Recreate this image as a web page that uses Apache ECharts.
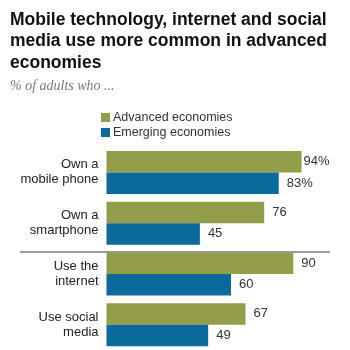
<!DOCTYPE html>
<html>
<head>
<meta charset="utf-8">
<script src="https://cdn.jsdelivr.net/npm/echarts@6/dist/echarts.min.js"></script>
<style>
  html, body { margin: 0; padding: 0; background: #fff; }
  #chart { width: 350px; height: 350px; }
</style>
</head>
<body>
<div id="chart"></div>
<script>
const categories = ['Own a\nmobile phone', 'Own a\nsmartphone', 'Use the\ninternet', 'Use social\nmedia'];
const advanced = [94, 76, 90, 67];
const emerging = [83, 45, 60, 49];
const seriesNames = ['Advanced economies', 'Emerging economies'];

const green = '#949e4a';
const blue = '#0a6a9c';
const font = '"Liberation Sans", Arial, sans-serif';

const chart = echarts.init(document.getElementById('chart'));

// first row gets a % sign and sits a little tighter to the bar
const valueLabel = (params) => params.dataIndex === 0 ? params.value + '%' : String(params.value);

const makeData = (arr) => arr.map((v, i) => i === 0 && v > 90 ? { value: v, label: { distance: 2 } } : v);

const option = {
    animation: false,
    title: [
        {
            text: 'Mobile technology, internet and social\nmedia use more common in advanced\neconomies',
            left: 5,
            top: 4,
            textStyle: {
                fontFamily: font,
                fontWeight: 'bold',
                fontSize: 17.5,
                lineHeight: 21.5,
                color: '#111'
            }
        },
        {
            text: '% of adults who ...',
            left: 5,
            top: 74,
            textStyle: {
                fontFamily: '"Liberation Serif", Georgia, serif',
                fontStyle: 'italic',
                fontWeight: 'normal',
                fontSize: 14,
                color: '#777'
            }
        }
    ],
    legend: {
        orient: 'vertical',
        left: 96,
        top: 106,
        icon: 'rect',
        itemWidth: 9,
        itemHeight: 9,
        itemGap: 2,
        data: seriesNames,
        textStyle: { fontFamily: font, fontSize: 12.5, color: '#333', padding: [0, 0, 0, -2] }
    },
    grid: {
        left: 106.5,
        width: 207.5,
        top: 147,
        height: 209
    },
    xAxis: {
        type: 'value',
        min: 0,
        max: 100,
        show: false
    },
    yAxis: {
        type: 'category',
        inverse: true,
        data: categories,
        axisLine: { show: false },
        axisTick: { show: false },
        axisLabel: {
            margin: 8,
            fontFamily: font,
            fontSize: 13,
            lineHeight: 15,
            color: '#222'
        }
    },
    graphic: [
        {
            type: 'line',
            shape: { x1: 20, y1: 252, x2: 330, y2: 252 },
            style: { stroke: '#7a7a7a', lineWidth: 1.5 }
        }
    ],
    series: [
        {
            name: seriesNames[0],
            type: 'bar',
            data: makeData(advanced),
            barWidth: 21.5,
            barGap: '0%',
            itemStyle: { color: green },
            label: {
                show: true,
                position: 'right',
                distance: 8,
                formatter: valueLabel,
                fontFamily: font,
                fontSize: 13,
                color: '#333'
            }
        },
        {
            name: seriesNames[1],
            type: 'bar',
            data: makeData(emerging),
            barWidth: 21.5,
            barGap: '0%',
            itemStyle: { color: blue },
            label: {
                show: true,
                position: 'right',
                distance: 8,
                formatter: valueLabel,
                fontFamily: font,
                fontSize: 13,
                color: '#333'
            }
        }
    ]
};

chart.setOption(option);
</script>
</body>
</html>
